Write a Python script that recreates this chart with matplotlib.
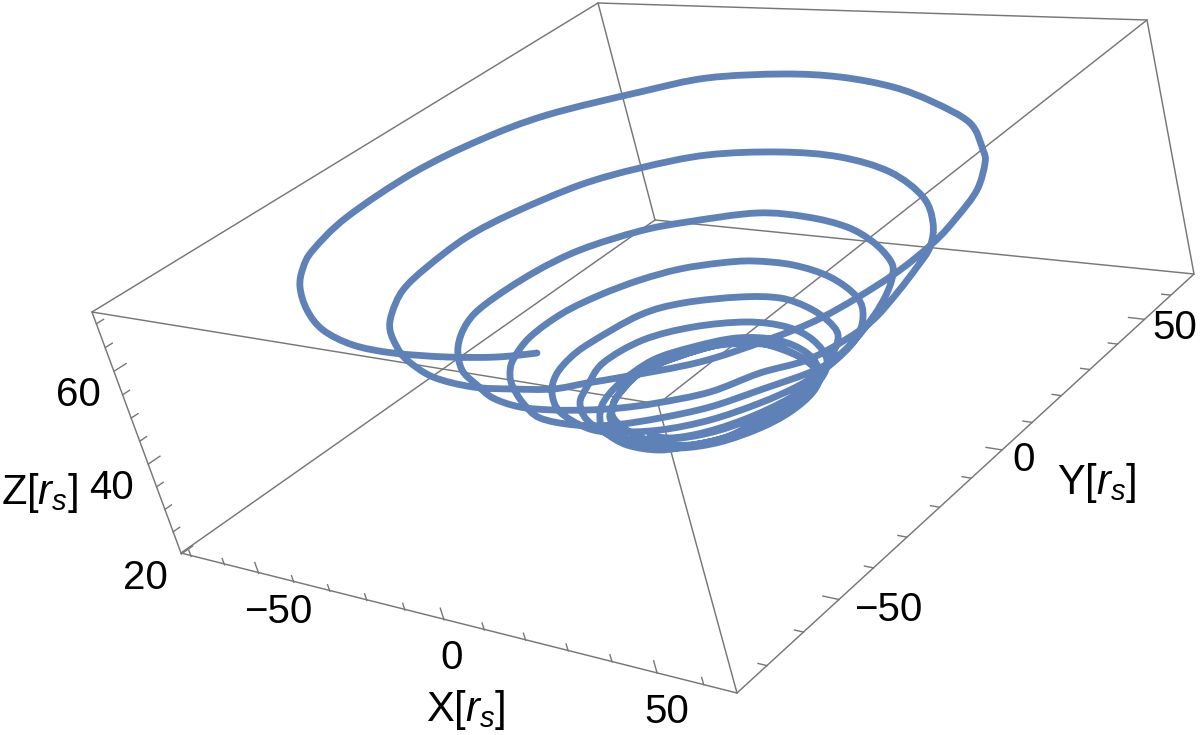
import numpy as np
import matplotlib
matplotlib.use("Agg")
import matplotlib.pyplot as plt
from matplotlib.path import Path
from matplotlib.patches import PathPatch

plt.rcParams['font.family'] = ['Liberation Sans', 'DejaVu Sans']
plt.rcParams['mathtext.fontset'] = 'custom'
plt.rcParams['mathtext.rm'] = 'Liberation Sans'
plt.rcParams['mathtext.it'] = 'Liberation Sans:italic'

# box ranges
x_range = (-73, 67)
y_range = (-78, 69)
z_range = (20, 72.5)

# where the box corners fall in the picture: (x, y, z) -> (u, v)
corner_uv = {
    (0, 0, 0): (181, 553), (1, 0, 0): (737, 693),
    (1, 1, 0): (1194, 274), (0, 1, 0): (655, 220),
    (0, 0, 1): (92, 312), (1, 0, 1): (658, 404),
    (1, 1, 1): (1147, 20), (0, 1, 1): (598, 3),
}

x_ticks_major = [-50, 0, 50]
x_ticks_minor = [-70, -60, -40, -30, -20, -10, 10, 20, 30, 40, 60]
y_ticks_major = [-50, 0, 50]
y_ticks_minor = [-70, -60, -40, -30, -20, -10, 10, 20, 30, 40, 60]
z_ticks_major = [20, 40, 60]
z_ticks_minor = [25, 30, 35, 45, 50, 55, 65, 70]

# the traced trajectory, in projected picture coordinates
curve_u = [537, 497, 447, 393, 353, 323, 307, 300, 303, 313, 347, 413, 480, 547, 640, 707, 783, 840,
           893, 933, 970, 983, 985, 977, 957, 933, 890, 823, 767, 700, 623, 587, 553, 513, 473, 433, 407, 397, 390,
           392, 403, 427, 467, 513, 580, 640, 707, 780, 840, 890, 923, 933, 930, 917, 897, 873, 845, 807, 760, 710, 657, 620, 587, 553, 520, 493, 477, 462, 458,
           467, 487, 533, 580, 640, 687, 757, 807, 847, 873, 890, 893, 887, 873, 850, 820, 760, 710, 660, 613, 575, 540, 523, 513, 510,
           513, 530, 563, 600, 640, 680, 720, 753, 793, 830, 857, 863, 855, 830, 800, 760, 710, 660, 613, 587, 560, 552,
           556, 570, 590, 640, 683, 740, 780, 807, 827, 838, 832, 815, 790, 743, 693, 643, 610, 587, 580,
           587, 603, 643, 693, 747, 787, 813, 827, 820, 795, 760, 727, 693, 660, 627, 605, 600,
           603, 620, 653, 693, 737, 777, 807, 820, 813, 790, 760, 720, 680, 640, 618, 610,
           612, 617, 640, 677, 727, 760, 800, 817, 803, 770, 730, 690, 655, 630, 615, 612,
           618, 640, 677, 720, 770, 805, 815, 795, 760, 720, 680, 650]
curve_v = [353, 357, 357, 353, 345, 330, 310, 287, 268, 250, 217, 173, 140, 115, 92, 78, 74, 77,
           87, 102, 123, 150, 163, 190, 217, 243, 277, 317, 340, 362, 377, 383, 389, 389, 387, 377, 360, 347, 330,
           313, 290, 267, 237, 213, 185, 168, 155, 152, 157, 172, 197, 223, 247, 267, 293, 320, 340, 360, 373, 392, 403, 408, 410, 410, 407, 398, 385, 370, 347,
           323, 303, 273, 250, 231, 222, 213, 217, 227, 242, 260, 273, 293, 317, 345, 368, 390, 407, 418, 425, 425, 418, 403, 387, 375,
           360, 337, 313, 295, 280, 269, 263, 261, 265, 277, 297, 317, 340, 365, 385, 403, 420, 430, 432, 428, 412, 393,
           375, 358, 343, 315, 303, 297, 298, 307, 320, 335, 355, 378, 398, 420, 435, 440, 435, 420, 403,
           387, 363, 340, 327, 322, 327, 340, 360, 380, 402, 420, 437, 445, 450, 445, 432, 420,
           403, 383, 360, 347, 338, 340, 353, 373, 392, 412, 428, 442, 448, 445, 432, 418,
           410, 397, 373, 357, 343, 343, 357, 373, 397, 418, 436, 445, 442, 432, 420, 410,
           395, 373, 357, 345, 345, 360, 375, 397, 415, 430, 438, 436]

# homography from the unit box to the picture
A, b = [], []
for (a, c, d), (u, v) in corner_uv.items():
    A.append([a, c, d, 1, 0, 0, 0, 0, -u*a, -u*c, -u*d])
    b.append(u)
    A.append([0, 0, 0, 0, a, c, d, 1, -v*a, -v*c, -v*d])
    b.append(v)
sol = np.linalg.lstsq(np.array(A, float), np.array(b, float), rcond=None)[0]
P = np.array([[sol[0], sol[1], sol[2], sol[3]],
              [sol[4], sol[5], sol[6], sol[7]],
              [sol[8], sol[9], sol[10], 1.0]])

def project(x, y, z):
    a = (x - x_range[0]) / (x_range[1] - x_range[0])
    c = (y - y_range[0]) / (y_range[1] - y_range[0])
    d = (z - z_range[0]) / (z_range[1] - z_range[0])
    p = P @ np.array([a, c, d, 1.0])
    return p[0] / p[2], p[1] / p[2]

fig = plt.figure(figsize=(12, 7.35), dpi=100)
ax = fig.add_axes([0, 0, 1, 1])
ax.set_xlim(0, 1200)
ax.set_ylim(735, 0)
ax.axis('off')

grey = '#777777'
edges = [((0,0,0),(1,0,0)), ((1,0,0),(1,1,0)), ((1,1,0),(0,1,0)), ((0,1,0),(0,0,0)),
         ((0,0,1),(1,0,1)), ((1,0,1),(1,1,1)), ((1,1,1),(0,1,1)), ((0,1,1),(0,0,1)),
         ((0,0,0),(0,0,1)), ((1,0,0),(1,0,1)), ((1,1,0),(1,1,1)), ((0,1,0),(0,1,1))]
for p0, p1 in edges:
    u0, v0 = corner_uv[p0]
    u1, v1 = corner_uv[p1]
    ax.plot([u0, u1], [v0, v1], color=grey, lw=1.05, solid_capstyle='round', zorder=1)

def tick(p0, p1):
    a = project(*p0)
    e = project(*p1)
    ax.plot([a[0], e[0]], [a[1], e[1]], color=grey, lw=1.0, zorder=1)

for t, L in [(t, 2.4) for t in x_ticks_major] + [(t, 1.4) for t in x_ticks_minor]:
    tick((t, y_range[0], z_range[0]), (t, y_range[0], z_range[0] + L))
for t, L in [(t, 3.4) for t in y_ticks_major] + [(t, 1.9) for t in y_ticks_minor]:
    tick((x_range[1], t, z_range[0]), (x_range[1] - L, t, z_range[0]))
for t, L in [(t, 3.0) for t in z_ticks_major] + [(t, 1.7) for t in z_ticks_minor]:
    tick((x_range[0], y_range[0], t), (x_range[0], y_range[0] + L, t))

# smooth Bezier path through the traced points
pts = np.column_stack([curve_u, curve_v]).astype(float)
tang = np.zeros_like(pts)
tang[1:-1] = (pts[2:] - pts[:-2]) / 6.0
verts = [pts[0]]
codes = [Path.MOVETO]
for i in range(len(pts) - 1):
    verts += [pts[i] + tang[i], pts[i + 1] - tang[i + 1], pts[i + 1]]
    codes += [Path.CURVE4] * 3
ax.add_patch(PathPatch(Path(verts, codes), facecolor='none', edgecolor='#5E81B8', lw=4.9,
                       capstyle='round', joinstyle='round', zorder=2))

fs = 29
labels = [("60", 78, 395), ("40", 112, 488), ("20", 145, 578),
          ("\u221250", 278, 612), ("0", 452, 658), ("50", 667, 712),
          ("\u221250", 888, 610), ("0", 1024, 460), ("50", 1175, 328)]
for s, u, v in labels:
    ax.text(u, v, s, fontsize=fs, ha='center', va='center', color='black')
for s, u, v in [("Z[$r_s$]", 40, 493), ("X[$r_s$]", 466, 710), ("Y[$r_s$]", 1097, 483)]:
    ax.text(u, v, s, fontsize=30, ha='center', va='center', color='black')

fig.savefig('out.png', dpi=100)
